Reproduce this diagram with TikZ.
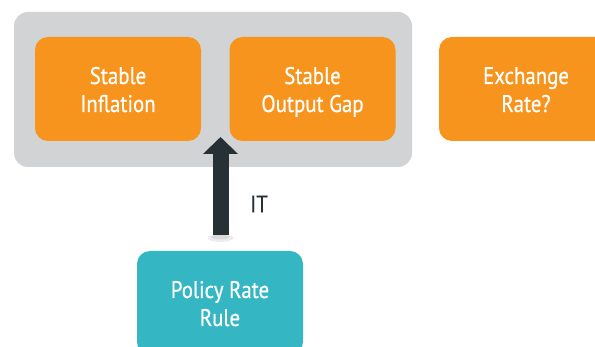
\documentclass[tikz,border=0pt]{standalone}
\usepackage{fontspec}
\setmainfont{PT Sans}[FakeStretch=0.87, FakeBold=0.6]
\usetikzlibrary{positioning,arrows.meta}
\definecolor{boxorange}{HTML}{F7941D}
\definecolor{boxgray}{HTML}{D1D3D4}
\definecolor{boxteal}{HTML}{35B6C3}
\definecolor{arrowdark}{HTML}{263035}
\tikzset{
	goalbox/.style={fill=boxorange, rounded corners=13pt, minimum width=166pt, minimum height=104pt, text=white, align=center, text height=46pt, text depth=0pt, font=\fontsize{24}{28}\selectfont},
	rulebox/.style={goalbox, fill=boxteal}
}

\begin{document}
\begin{tikzpicture}[x=1pt, y=-1pt]
		%%%%% START %%%%%
		
		\useasboundingbox (0, 0) rectangle (595, 347);
		\clip (0, 0) rectangle (595, 347);
		
		\fill[boxgray, rounded corners=14pt] (14, 12) rectangle (412, 167);
		
		\node[goalbox] (infl) at (118, 89) {Stable\\Inflation};
		\node[goalbox] (gap) at (312.5, 89) {Stable\\Output Gap};
		\node[goalbox, minimum width=174pt] (exch) at (526, 89) {Exchange\\Rate?};
		
		\node[rulebox] (rule) at (220, 303) {Policy Rate\\Rule};
		
		\coordinate (top) at (220.5, 137);
		\fill[black, opacity=0.07] (220.5, 238) ellipse (13 and 4);
		\fill[black, opacity=0.08] (220.5, 237) ellipse (9 and 2.5);
		\draw[arrowdark, line width=16pt, -{Triangle[width=34pt, length=17pt]}] ([xshift=0.5pt, yshift=16pt]rule.north) -- (top);
		
		\node[text=arrowdark, font=\fontsize{24}{28}\selectfont] (it) at (259, 204) {IT};
		
		%%%%% END %%%%%
	\end{tikzpicture}
\end{document}
